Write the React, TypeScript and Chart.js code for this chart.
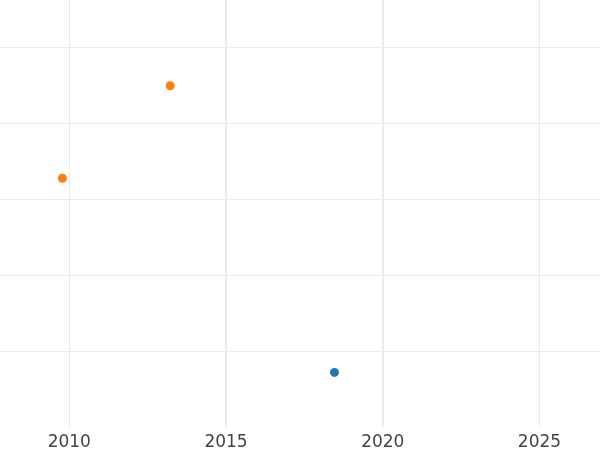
import React, { useEffect, useRef } from "react";
import { Chart, registerables } from "chart.js";

Chart.register(...registerables);

// Data
const orangeYears = [2009.78, 2013.22];
const orangeValues = [3.28, 4.5];
const blueYears = [2018.46];
const blueValues = [0.72];
const xTicks = [2010, 2015, 2020, 2025];

const X_MIN = 2007.79;
const X_MAX = 2026.93;
const Y_MIN = 0;
const Y_MAX = 5.63;

export default function App() {
  const ref = useRef<HTMLCanvasElement | null>(null);

  useEffect(() => {
    if (!ref.current) return;
    const chart = new Chart(ref.current, {
      type: "scatter",
      data: {
        datasets: [
          {
            label: "blue",
            data: blueYears.map((x, i) => ({ x, y: blueValues[i] })),
            backgroundColor: "#1f77b4",
            borderWidth: 0,
            pointRadius: 4.5,
          },
          {
            label: "orange",
            data: orangeYears.map((x, i) => ({ x, y: orangeValues[i] })),
            backgroundColor: "#ff7f0e",
            borderWidth: 0,
            pointRadius: 4.5,
          },
        ],
      },
      options: {
        responsive: false,
        animation: false,
        layout: { padding: 0, autoPadding: false },
        plugins: { legend: { display: false }, tooltip: { enabled: false } },
        scales: {
          x: {
            type: "linear",
            min: X_MIN,
            max: X_MAX,
            border: { display: false },
            afterBuildTicks: (scale: any) => {
              scale.ticks = xTicks.map((v) => ({ value: v }));
            },
            afterFit: (scale: any) => {
              scale.height = 23;
            },
            grid: {
              color: "#ebebeb",
              lineWidth: (ctx: any) =>
                ctx.tick && (ctx.tick.value === 2015 || ctx.tick.value === 2020) ? 2 : 1,
              drawTicks: false,
            },
            ticks: {
              color: "#444444",
              padding: 5,
              maxRotation: 0,
              font: { family: "DejaVu Sans", size: 17 },
              callback: (v: any) => String(v),
            },
          },
          y: {
            type: "linear",
            min: Y_MIN,
            max: Y_MAX,
            border: { display: false },
            afterFit: (scale: any) => {
              scale.width = 0;
            },
            grid: {
              color: (ctx: any) =>
                ctx.tick && ctx.tick.value === 0 ? "rgba(0,0,0,0)" : "#ebebeb",
              lineWidth: 1,
              drawTicks: false,
            },
            ticks: {
              display: false,
              stepSize: 1,
              includeBounds: false,
            },
          },
        },
      },
    });
    return () => chart.destroy();
  }, []);

  return (
    <div style={{ position: "fixed", left: 0, top: 0, width: 600, height: 450, background: "#fff" }}>
      <canvas ref={ref} width={600} height={450} style={{ display: "block" }} />
    </div>
  );
}
